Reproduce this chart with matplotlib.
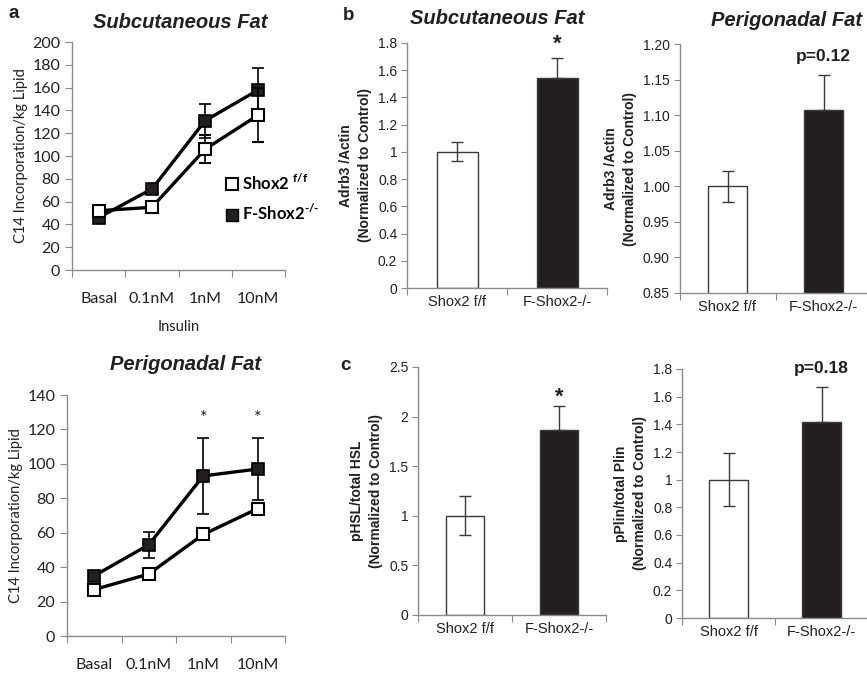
import matplotlib
matplotlib.use("Agg")
import matplotlib.pyplot as plt
from matplotlib.lines import Line2D

# data
doses = ["Basal", "0.1nM", "1nM", "10nM"]
groups = ["Shox2 f/f", "F-Shox2-/-"]

sc_ctrl = [52, 55, 106, 136]
sc_ctrl_err = [3, 2, 12, 24]
sc_ko = [46, 71, 131, 158]
sc_ko_err = [2, 4, 15, 19]

pg_ctrl = [27, 36, 59, 74]
pg_ctrl_err = [2, 2, 2, 3]
pg_ko = [35, 53, 93, 97]
pg_ko_err = [2, 7.5, 22, 18]

adrb3_sc = [1.0, 1.54]
adrb3_sc_err = [0.07, 0.15]
adrb3_pg = [1.0, 1.107]
adrb3_pg_err = [0.022, 0.05]
phsl = [1.0, 1.86]
phsl_err = [0.195, 0.25]
pplin = [1.0, 1.42]
pplin_err = [0.19, 0.25]

TXT = "#231f20"
AX = "#8a8a8a"
LINEFONT = "Lato"
BARFONT = "Liberation Sans"

plt.rcParams["mathtext.fontset"] = "custom"
plt.rcParams["mathtext.rm"] = "Lato:bold"

fig = plt.figure(figsize=(8.67, 6.73), dpi=100)
W, H = 867.0, 673.0


def box(x0, x1, ytop, ybot):
    return [x0 / W, 1 - ybot / H, (x1 - x0) / W, (ybot - ytop) / H]


def style(ax, font, size):
    for s in ["top", "right"]:
        ax.spines[s].set_visible(False)
    for s in ["left", "bottom"]:
        ax.spines[s].set_color(AX)
        ax.spines[s].set_linewidth(1.0)
    ax.tick_params(which="both", colors=AX, labelcolor=TXT, direction="out")
    ax.tick_params(which="major", length=5)
    ax.tick_params(which="minor", length=0)
    for lab in ax.get_yticklabels() + ax.get_xticklabels(minor=True):
        lab.set_fontfamily(font)
        lab.set_fontsize(size)


def line_panel(ax, ctrl, ctrl_err, ko, ko_err, ymax, step):
    x = list(range(len(doses)))
    ax.errorbar(x, ko, yerr=ko_err, color="black", lw=2.4, marker="s", ms=8,
                mfc="#231f20", mec="black", mew=1.2, capsize=4, elinewidth=1.2, zorder=3)
    ax.errorbar(x, ctrl, yerr=ctrl_err, color="black", lw=2.4, marker="s", ms=8,
                mfc="white", mec="black", mew=1.5, capsize=4, elinewidth=1.2, zorder=4)
    ax.set_xlim(-0.5, 3.5)
    ax.set_ylim(0, ymax)
    ax.set_yticks(range(0, ymax + 1, step))
    ax.set_xticks([-0.5, 0.5, 1.5, 2.5, 3.5])
    ax.set_xticklabels([])
    ax.set_xticks(x, minor=True)
    ax.set_xticklabels(doses, minor=True)
    ax.tick_params(axis="x", which="minor", pad=16)
    ax.set_ylabel("C14 Incorporation/kg Lipid", fontfamily=LINEFONT, fontsize=10.5,
                  color=TXT, labelpad=3)
    style(ax, LINEFONT, 11.5)


def bar_panel(ax, vals, errs, ylim, yticks, fmt, ylabel, note):
    x = [0, 1]
    ax.bar(x, vals, width=0.41, color=["white", "#231f20"], edgecolor="#3a3a3a",
           linewidth=1.0, zorder=2)
    ax.errorbar(x[0], vals[0], yerr=errs[0], color="#3a3a3a", lw=0, elinewidth=1.0,
                capsize=4, zorder=3)
    ax.errorbar(x[1], vals[1], yerr=[[0], [errs[1]]], color="#3a3a3a", lw=0,
                elinewidth=1.0, capsize=4, zorder=3)
    ax.set_xlim(-0.5, 1.5)
    ax.set_ylim(*ylim)
    ax.set_yticks(yticks)
    ax.set_yticklabels([fmt.format(v) for v in yticks])
    ax.set_xticks([-0.5, 0.5, 1.5])
    ax.set_xticklabels([])
    ax.set_xticks(x, minor=True)
    ax.set_xticklabels(groups, minor=True)
    ax.set_ylabel(ylabel, fontfamily=BARFONT, fontsize=10, fontweight="bold",
                  color=TXT, labelpad=4, linespacing=1.45)
    style(ax, BARFONT, 10)
    ax.tick_params(axis="y", which="major", length=4, pad=3)
    ax.tick_params(axis="x", which="minor", labelsize=10.5, pad=5)
    ax.text(1, note[1], note[0], ha="center", va="center", fontfamily=BARFONT,
            fontsize=note[2], fontweight="bold", color=TXT)


# a: line charts
ax1 = fig.add_axes(box(72, 285, 42, 270))
line_panel(ax1, sc_ctrl, sc_ctrl_err, sc_ko, sc_ko_err, 200, 20)
ax1.set_xlabel("Insulin", fontfamily=LINEFONT, fontsize=10.5, color=TXT, labelpad=10)
handles = [Line2D([], [], marker="s", ls="none", ms=8, mfc="white", mec="black", mew=1.5),
           Line2D([], [], marker="s", ls="none", ms=8, mfc="#231f20", mec="black")]
ax1.legend(handles, [r"Shox2 $^{\text{f/f}}$", r"F-Shox2$^{\text{-/-}}$"],
           loc="upper left", bbox_to_anchor=(0.68, 0.455), frameon=False,
           prop={"family": LINEFONT, "weight": "bold", "size": 12},
           handletextpad=0.1, handlelength=1.0, labelspacing=0.62, borderaxespad=0)

ax2 = fig.add_axes(box(67, 285, 395, 636))
line_panel(ax2, pg_ctrl, pg_ctrl_err, pg_ko, pg_ko_err, 140, 20)
for i in [2, 3]:
    ax2.text(i, 126.5, "*", ha="center", va="center", fontsize=13, color=TXT,
             fontfamily=LINEFONT)

# b and c: bar charts
ax3 = fig.add_axes(box(407, 607, 43, 288))
bar_panel(ax3, adrb3_sc, adrb3_sc_err, (0, 1.8), [0, 0.2, 0.4, 0.6, 0.8, 1, 1.2, 1.4, 1.6, 1.8],
          "{:g}", "Adrb3 /Actin\n(Normalized to Control)", ("*", 1.79, 16))

ax4 = fig.add_axes(box(679.5, 871.5, 44, 293))
bar_panel(ax4, adrb3_pg, adrb3_pg_err, (0.85, 1.2), [0.85, 0.9, 0.95, 1.0, 1.05, 1.1, 1.15, 1.2],
          "{:.2f}", "Adrb3 /Actin\n(Normalized to Control)", ("p=0.12", 1.182, 12.5))

ax5 = fig.add_axes(box(418, 606, 367, 615))
bar_panel(ax5, phsl, phsl_err, (0, 2.5), [0, 0.5, 1, 1.5, 2, 2.5],
          "{:g}", "pHSL/total HSL\n(Normalized to Control)", ("*", 2.2, 16))

ax6 = fig.add_axes(box(682, 868, 369, 618))
bar_panel(ax6, pplin, pplin_err, (0, 1.8), [0, 0.2, 0.4, 0.6, 0.8, 1, 1.2, 1.4, 1.6, 1.8],
          "{:g}", "pPlin/total Plin\n(Normalized to Control)", ("p=0.18", 1.8, 12.5))

# titles and panel letters
titles = [("Subcutaneous Fat", 180, 22), ("Subcutaneous Fat", 497, 19),
          ("Perigonadal Fat", 787, 20), ("Perigonadal Fat", 186, 364)]
for t, x, y in titles:
    fig.text(x / W, 1 - y / H, t, ha="center", va="center", fontfamily=BARFONT,
             fontsize=14.5, fontweight="bold", fontstyle="italic", color=TXT)
for t, x, y in [("a", 14, 14), ("b", 349, 16), ("c", 345, 366)]:
    fig.text(x / W, 1 - y / H, t, ha="center", va="center", fontfamily=BARFONT,
             fontsize=13.5, fontweight="bold", color=TXT)

fig.savefig("out.png", dpi=100)
